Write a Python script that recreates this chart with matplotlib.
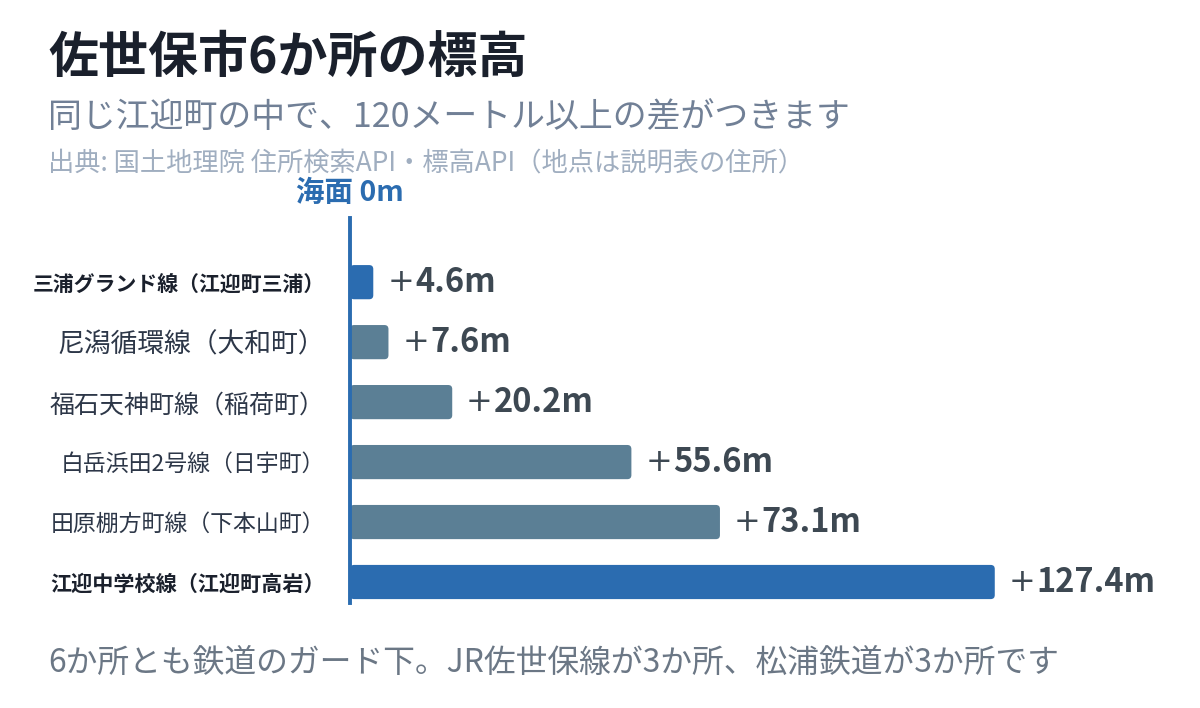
import matplotlib
matplotlib.use("Agg")
import matplotlib.pyplot as plt
from matplotlib.patches import FancyBboxPatch

plt.rcParams['font.family'] = ['Noto Sans CJK JP', 'DejaVu Sans']

# Data
labels = ["三浦グランド線（江迎町三浦）", "尼潟循環線（大和町）", "福石天神町線（稲荷町）",
          "白岳浜田2号線（日宇町）", "田原棚方町線（下本山町）", "江迎中学校線（江迎町高岩）"]
values = [4.6, 7.6, 20.2, 55.6, 73.1, 127.4]
highlight = [True, False, False, False, False, True]
label_sizes = [15, 19.3, 18, 16.5, 16.5, 15.2]

BLUE = "#2b6cb0"
GRAY = "#5b7f95"

fig = plt.figure(figsize=(12, 7.08), dpi=100)
W, H = 1200, 708
# axes: zero line at x=350, spans y=218..603
ax = fig.add_axes([350 / W, 1 - 603 / H, (1180 - 350) / W, (603 - 218) / H])

ypos = list(range(len(values)))
colors = [BLUE if h else GRAY for h in highlight]
bars = ax.barh(ypos, values, height=0.57, color=colors)
ax.set_xlim(0, 164)
ax.set_ylim(5.35, -1.07)

# swap bars for rounded ones
px_x = (1180 - 350) / 164
px_y = 60
for b in list(bars):
    x0, y0 = b.get_x(), b.get_y()
    w, h = b.get_width(), b.get_height()
    fb = FancyBboxPatch((x0, y0), w, h,
                        boxstyle="round,pad=0,rounding_size=0.8",
                        mutation_aspect=px_x / px_y,
                        facecolor=b.get_facecolor(), edgecolor="none")
    ax.add_patch(fb)
    b.remove()

for s in ax.spines.values():
    s.set_visible(False)
ax.axvline(0, color=BLUE, lw=2.8, clip_on=False, zorder=3)
ax.set_xticks([])
ax.set_yticks(ypos)
ax.set_yticklabels(labels)
ax.tick_params(axis='y', length=0, pad=18)
for t, h, fs in zip(ax.get_yticklabels(), highlight, label_sizes):
    t.set_fontsize(fs)
    if h:
        t.set_fontweight('bold')
        t.set_color("#1a202c")
    else:
        t.set_color("#2d3748")

# value labels
for y, v in zip(ypos, values):
    ax.annotate("+", (v, y), xytext=(10, 0), textcoords="offset points",
                va="center", ha="left", fontsize=23, color="#3d4852",
                family=['DejaVu Sans'])
    ax.annotate(f"{v:.1f}m", (v, y), xytext=(30, 0), textcoords="offset points",
                va="center", ha="left", fontsize=23.5, color="#3d4852",
                fontweight='bold')

ax.annotate("海面 0m", (0, -1.07), xytext=(0, 18), textcoords="offset points",
            ha="center", va="center", fontsize=20.5, fontweight='bold',
            color=BLUE, annotation_clip=False)

fig.text(48 / W, 1 - 58 / H, "佐世保市6か所の標高", fontsize=36, fontweight='bold',
         color="#1a202c", va="center", ha="left")
fig.text(48 / W, 1 - 117 / H, "同じ江迎町の中で、120メートル以上の差がつきます",
         fontsize=24.4, color="#718096", va="center", ha="left")
fig.text(48 / W, 1 - 163 / H, "出典: 国土地理院 住所検索API・標高API（地点は説明表の住所）",
         fontsize=18.9, color="#a0aec0", va="center", ha="left")
fig.text(48 / W, 1 - 663 / H, "6か所とも鉄道のガード下。JR佐世保線が3か所、松浦鉄道が3か所です",
         fontsize=22.9, color="#6b7785", va="center", ha="left")

fig.savefig("out.png", dpi=100, facecolor="white")
